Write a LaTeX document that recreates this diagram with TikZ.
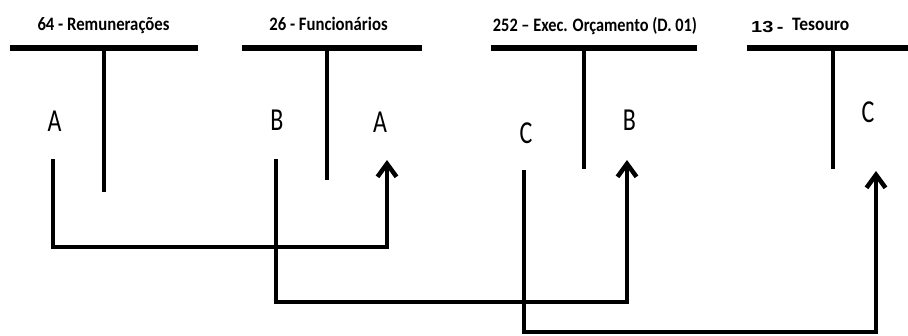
\documentclass[tikz,border=0pt]{standalone}
\usepackage{fontspec}
\usepackage{graphicx}
\setmainfont{Carlito}
\newfontfamily\numfont{Liberation Sans}
\usetikzlibrary{arrows.meta}
\newcommand\condense[2]{\scalebox{#1}[1]{#2}}

\begin{document}
\begin{tikzpicture}[x=1pt,y=-1pt,
  bar/.style={line width=5.5pt},
  stem/.style={line width=4pt},
  flow/.style={line width=4.5pt, line join=miter,
    -{Straight Barb[length=13pt,width=19pt]}},
  title/.style={inner sep=0pt, anchor=base,
    font=\bfseries\fontsize{19}{21}\selectfont},
  entry/.style={inner sep=0pt, font=\fontsize{32}{34}\selectfont}]
\useasboundingbox (0,0) rectangle (908,336);

% account titles
\node[title] (t64)  at (103.5,31) {\condense{0.88}{64 - Remunerações}};
\node[title] (t26)  at (328.5,31) {\condense{0.88}{26 - Funcionários}};
\node[title] (t252) at (595,32)   {\condense{0.86}{252 – Exec. Orçamento (D. 01)}};
\node[title, anchor=base west] (t13n) at (751,33)
  {\condense{1.25}{\numfont\bfseries\fontsize{16}{18}\selectfont 13\,-}};
\node[title, anchor=base west] (t13) at (792,31) {\condense{0.92}{Tesouro}};

% T-account bars and stems
\coordinate (b1l) at (10,48);  \coordinate (b1r) at (198,48);
\coordinate (b2l) at (242,48); \coordinate (b2r) at (422,48);
\coordinate (b3l) at (491,48); \coordinate (b3r) at (697,48);
\coordinate (b4l) at (747,48); \coordinate (b4r) at (908,48);
\draw[bar] (b1l) -- (b1r);
\draw[bar] (b2l) -- (b2r);
\draw[bar] (b3l) -- (b3r);
\draw[bar] (b4l) -- (b4r);
\coordinate (s1t) at (104,48); \coordinate (s1b) at (104,192);
\coordinate (s2t) at (327,48); \coordinate (s2b) at (327,180);
\coordinate (s3t) at (584,48); \coordinate (s3b) at (584,169);
\coordinate (s4t) at (833,48); \coordinate (s4b) at (833,169);
\draw[stem] (s1t) -- (s1b);
\draw[stem] (s2t) -- (s2b);
\draw[stem] (s3t) -- (s3b);
\draw[stem] (s4t) -- (s4b);

% entries
\node[entry] (a1) at (54.5,121.5) {\condense{0.75}{A}};
\node[entry] (b1) at (277,120.5)  {\condense{0.75}{B}};
\node[entry] (a2) at (380,122)    {\condense{0.75}{A}};
\node[entry] (c1) at (526,133)    {\condense{0.75}{C}};
\node[entry] (b2) at (629.5,120)  {\condense{0.75}{B}};
\node[entry] (c2) at (868,112.5)  {\condense{0.75}{C}};

% transfers between accounts
\coordinate (fa) at (53,159);  \coordinate (ta) at (387,160); \coordinate (ya) at (0,247);
\coordinate (fb) at (276,159); \coordinate (tb) at (627,160); \coordinate (yb) at (0,302);
\coordinate (fc) at (524,170); \coordinate (tc) at (876,171); \coordinate (yc) at (0,332);
\draw[flow] (fa) -- (fa |- ya) -- (ta |- ya) -- (ta);
\draw[flow] (fb) -- (fb |- yb) -- (tb |- yb) -- (tb);
\draw[flow] (fc) -- (fc |- yc) -- (tc |- yc) -- (tc);
\end{tikzpicture}
\end{document}
